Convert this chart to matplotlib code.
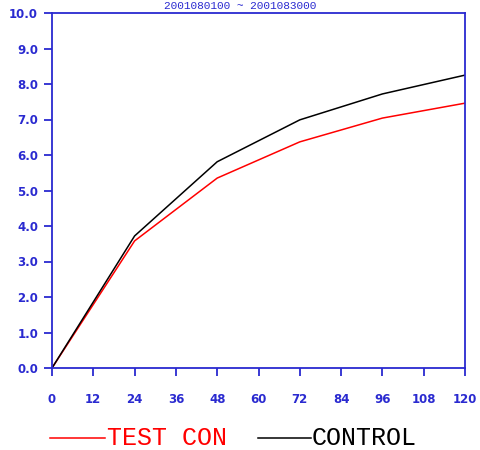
import matplotlib
matplotlib.use("Agg")
import matplotlib.pyplot as plt
from matplotlib.lines import Line2D

hours = [0, 24, 48, 72, 96, 120]
test_con = [0.0, 3.58, 5.35, 6.37, 7.04, 7.46]
control = [0.0, 3.72, 5.81, 6.99, 7.72, 8.25]

xticks = list(range(0, 121, 12))
yticks = [i * 1.0 for i in range(11)]

BLUE = "#2a2ad0"

fig = plt.figure(figsize=(4.8, 4.5), dpi=100)
ax = fig.add_axes([52 / 480, 1 - 368 / 450, 413 / 480, 355 / 450])

ax.plot(hours, test_con, color="red", lw=1.1)
ax.plot(hours, control, color="black", lw=1.1)

ax.set_xlim(0, 120)
ax.set_ylim(0, 10)
ax.set_xticks(xticks)
ax.set_yticks(yticks)
ax.set_xticklabels([str(t) for t in xticks])
ax.set_yticklabels([f"{t:.1f}" for t in yticks])
for s in ax.spines.values():
    s.set_color(BLUE)
    s.set_linewidth(1.3)
ax.tick_params(colors=BLUE, labelcolor=BLUE, direction="out", length=6, width=1.3,
               labelsize=8.5)
ax.tick_params(axis="x", pad=12)
ax.tick_params(axis="y", pad=4)
for lab in ax.get_xticklabels() + ax.get_yticklabels():
    lab.set_fontweight("bold")

# title sits at the very top edge in the original
fig.text(0.5, 1.0 - 1 / 450, "2001080100 ~ 2001083000", ha="center", va="top",
         color=BLUE, fontsize=8, family="Liberation Mono")

# legend drawn under the plot
ly = 1 - 438 / 450
fig.add_artist(Line2D([50 / 480, 105 / 480], [ly, ly], color="red", lw=1.1))
fig.text(107 / 480, ly, "TEST CON", color="red", fontsize=18,
         family="Liberation Mono", va="center", ha="left")
fig.add_artist(Line2D([258 / 480, 311 / 480], [ly, ly], color="black", lw=1.1))
fig.text(312 / 480, ly, "CONTROL", color="black", fontsize=18,
         family="Liberation Mono", va="center", ha="left")

fig.savefig("out.png", dpi=100)
